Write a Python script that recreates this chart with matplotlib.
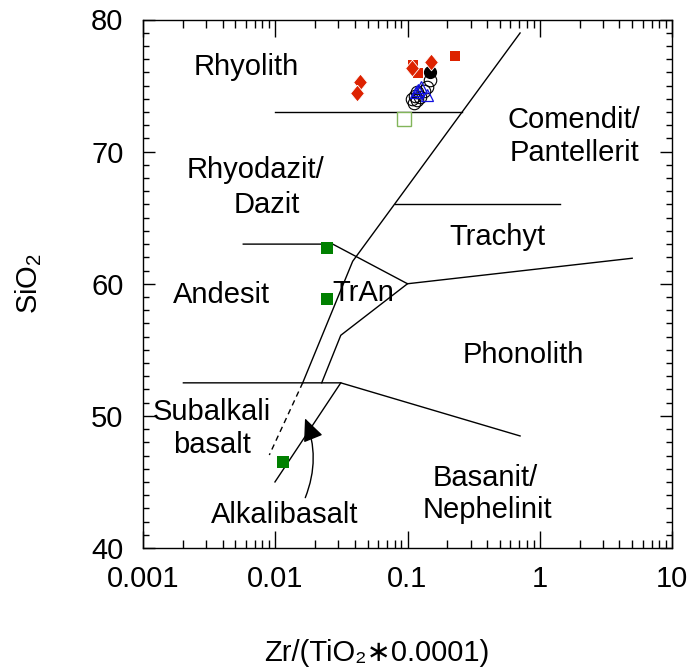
import matplotlib
matplotlib.use("Agg")
import matplotlib.pyplot as plt
from matplotlib.patches import FancyArrowPatch
from matplotlib.ticker import FixedLocator, NullFormatter, MultipleLocator

plt.rcParams['font.family'] = ['Liberation Sans', 'DejaVu Sans']
plt.rcParams['mathtext.fontset'] = 'custom'
plt.rcParams['mathtext.rm'] = 'Liberation Sans'
plt.rcParams['mathtext.it'] = 'Liberation Sans'
plt.rcParams['mathtext.default'] = 'regular'

# ---- field boundaries (Zr/TiO2*0.0001, SiO2) ----
main_x = [0.71, 0.0385, 0.01614]
main_y = [78.98, 61.70, 52.51]
dash_x = [0.01614, 0.00902]
dash_y = [52.51, 47.04]
inner_x = [0.1, 0.0313, 0.02245]
inner_y = [60.0, 56.1, 52.5]
tran_x = [0.00573, 0.0272, 0.1, 5.0]
tran_y = [63.0, 63.0, 60.0, 61.93]
bas_x = [0.00202, 0.0313, 0.71]
bas_y = [52.5, 52.5, 48.48]
alk_x = [0.0313, 0.00995]
alk_y = [52.5, 45.0]
rhy_x = [0.01, 0.258]
rhy_y = [73.0, 73.0]
tra_x = [0.0804, 1.42]
tra_y = [66.0, 66.0]

# ---- samples ----
green_sq_x = [0.0246, 0.0246, 0.01145]
green_sq_y = [62.70, 58.82, 46.53]
open_green_x = [0.0941]
open_green_y = [72.47]
red_dia_x = [0.0438, 0.0417, 0.109, 0.1508]
red_dia_y = [75.29, 74.41, 76.33, 76.76]
red_sq_x = [0.1106, 0.1194, 0.2286]
red_sq_y = [76.56, 75.93, 77.26]
black_x = [0.148]
black_y = [76.05]
circ_x = [0.1480, 0.1404, 0.1333, 0.1180, 0.1140, 0.1180, 0.1120, 0.1243, 0.1081]
circ_y = [75.42, 74.89, 74.59, 74.51, 74.21, 73.91, 73.68, 74.13, 73.98]
tri_x = [0.1208, 0.1397, 0.1258, 0.1160]
tri_y = [74.66, 74.29, 74.91, 74.51]

# ---- field names ----
labels = ["Rhyolith", "Rhyodazit/", "Dazit", "Comendit/", "Pantellerit", "Trachyt",
          "Andesit", "TrAn", "Phonolith", "Subalkali", "basalt", "Alkalibasalt",
          "Basanit/", "Nephelinit"]
label_x = [0.00601, 0.00703, 0.00867, 1.816, 1.816, 0.475,
           0.00389, 0.0461, 0.747, 0.00332, 0.00332, 0.01185,
           0.386, 0.399]
label_y = [76.40, 68.61, 65.96, 72.39, 69.90, 63.54,
           59.15, 59.30, 54.61, 50.29, 47.79, 42.50,
           45.30, 42.88]

xticks = [0.001, 0.01, 0.1, 1, 10]
xticklabels = ["0.001", "0.01", "0.1", "1", "10"]
yticks = [40, 50, 60, 70, 80]

fig = plt.figure(figsize=(6.96, 6.69), dpi=100)
ax = fig.add_axes([143/696, 1-548/669, 529/696, 528.5/669])
ax.set_xscale('log')
ax.set_xlim(0.001, 10)
ax.set_ylim(40, 80)

lk = dict(color='black', lw=1.0, solid_joinstyle='miter', zorder=2)
for xs, ys in [(main_x, main_y), (inner_x, inner_y), (tran_x, tran_y), (bas_x, bas_y),
               (alk_x, alk_y), (rhy_x, rhy_y), (tra_x, tra_y)]:
    ax.plot(xs, ys, **lk)
ax.plot(dash_x, dash_y, color='black', lw=1.0, ls=(0, (4, 3)), zorder=2)

arr = FancyArrowPatch((0.01687, 43.81), (0.01679, 49.81),
                      connectionstyle='arc3,rad=0.2',
                      arrowstyle='-|>,head_length=1.0,head_width=0.45',
                      mutation_scale=14, color='black', lw=1.0,
                      shrinkA=0, shrinkB=0, zorder=3)
ax.add_patch(arr)

red = '#DD2200'
ax.plot(circ_x, circ_y, ls='none', marker='o', ms=9, mfc='none', mec='black', mew=0.8, zorder=4)
ax.plot(tri_x, tri_y, ls='none', marker='^', ms=9, mfc='none', mec='#1010E0', mew=0.9, zorder=5)
ax.plot(black_x, black_y, ls='none', marker='o', ms=8.5, mfc='black', mec='black', zorder=6)
ax.plot(red_sq_x, red_sq_y, ls='none', marker='s', ms=7.5, mfc=red, mec=red, mew=0, zorder=7)
dia = [(0, 1), (0.82, 0), (0, -1), (-0.82, 0), (0, 1)]
ax.plot(red_dia_x, red_dia_y, ls='none', marker=dia, ms=12, mfc=red, mec='white', mew=0.6, zorder=8)
ax.plot(open_green_x, open_green_y, ls='none', marker='s', ms=9.6, mfc='white', mec='#82B55A', mew=1.0, zorder=6)
ax.plot(green_sq_x, green_sq_y, ls='none', marker='s', ms=8.6, mfc='#008000', mec='#008000', mew=0, zorder=6)

for t, x, y in zip(labels, label_x, label_y):
    ax.text(x, y, t, fontsize=21, ha='center', va='center', zorder=9)

ax.xaxis.set_major_locator(FixedLocator(xticks))
ax.set_xticklabels(xticklabels)
minors = [m * d for d in [0.001, 0.01, 0.1, 1] for m in range(2, 10)]
ax.xaxis.set_minor_locator(FixedLocator(minors))
ax.xaxis.set_minor_formatter(NullFormatter())
ax.yaxis.set_major_locator(FixedLocator(yticks))
ax.yaxis.set_minor_locator(MultipleLocator(1))

ax.tick_params(axis='both', which='both', direction='in', top=True, right=True, labelsize=21)
ax.tick_params(axis='x', which='major', length=12, width=1.0, pad=12)
ax.tick_params(axis='x', which='minor', length=5.8, width=1.0)
ax.tick_params(axis='y', which='major', length=8.6, width=1.0, pad=14)
ax.tick_params(axis='y', which='minor', length=4.3, width=1.0)
for s in ax.spines.values():
    s.set_linewidth(1.0)

ax.set_xlabel('Zr/(TiO\u2082\u22170.0001)', fontsize=21,
              family=['Liberation Sans', 'DejaVu Sans'])
ax.xaxis.set_label_coords((377-143)/529, -0.172)
ax.set_ylabel('SiO$_2$', fontsize=21)
ax.yaxis.set_label_coords(-0.187, 0.5)

fig.savefig('out.png', dpi=100)
